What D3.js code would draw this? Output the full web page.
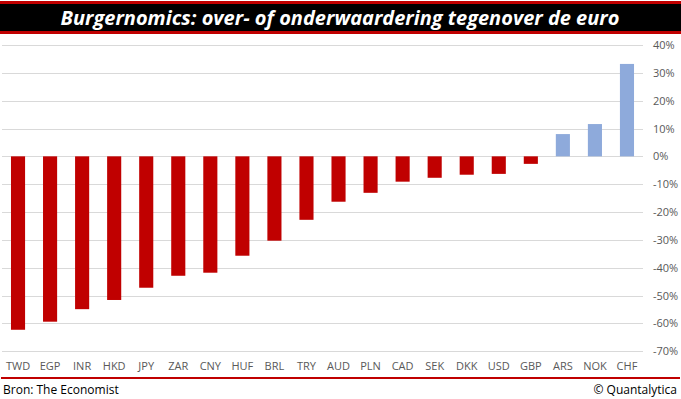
<!DOCTYPE html>
<html>
<head>
<meta charset="utf-8">
<script src="https://cdn.jsdelivr.net/npm/d3@7"></script>
<style>
  body { margin: 0; background: #fff; }
  svg { display: block; }
  .tick text { font-family: "Open Sans", sans-serif; font-size: 11px; fill: #595959; }
</style>
</head>
<body>
<svg id="viz" width="681" height="399"></svg>
<script>
var currencies = ["TWD","EGP","INR","HKD","JPY","ZAR","CNY","HUF","BRL","TRY","AUD","PLN","CAD","SEK","DKK","USD","GBP","ARS","NOK","CHF"];
var valuation = [-62.3,-59.4,-54.9,-51.6,-47.2,-42.9,-41.8,-35.7,-30.3,-22.8,-16.3,-13.1,-9.1,-7.7,-6.6,-6.3,-2.7,8.0,11.6,33.2];
var yTicks = [40,30,20,10,0,-10,-20,-30,-40,-50,-60,-70];

var titleText = "Burgernomics: over- of onderwaardering tegenover de euro";
var sourceText = "Bron: The Economist";
var copyText = "\u00A9 Quantalytica";

var svg = d3.select("#viz");

// title band
svg.append("rect").attr("x", 0).attr("y", 1).attr("width", 681).attr("height", 33).attr("fill", "#c00000");
svg.append("rect").attr("x", 0).attr("y", 4).attr("width", 681).attr("height", 27).attr("fill", "#000");
svg.append("text")
  .attr("x", 340).attr("y", 25)
  .attr("text-anchor", "middle")
  .style("font-family", "'Open Sans', sans-serif")
  .style("font-weight", "bold").style("font-style", "italic")
  .style("font-size", "20px").attr("fill", "#fff")
  .text(titleText);

var x = d3.scaleBand().domain(currencies).range([2, 643]).paddingInner(0.56).paddingOuter(0.28);
var y = d3.scaleLinear().domain([-70, 40]).range([351.2, 45]);

// gridlines
svg.append("g").selectAll("line").data(yTicks).join("line")
  .attr("x1", 2).attr("x2", 643)
  .attr("y1", d => Math.round(y(d)) + 0.5).attr("y2", d => Math.round(y(d)) + 0.5)
  .attr("stroke", "#d9d9d9").attr("stroke-width", 1);

// bars
svg.append("g").selectAll("rect").data(currencies).join("rect")
  .attr("x", (d) => x(d))
  .attr("width", x.bandwidth())
  .attr("y", (d, i) => y(Math.max(0, valuation[i])))
  .attr("height", (d, i) => Math.abs(y(valuation[i]) - y(0)))
  .attr("fill", (d, i) => valuation[i] < 0 ? "#c00000" : "#8eaadb");

// y axis on the right
var yAxis = svg.append("g")
  .attr("transform", "translate(650,0)")
  .call(d3.axisRight(y).tickValues(yTicks).tickSize(0).tickPadding(3).tickFormat(d => d + "%"));
yAxis.select(".domain").remove();

// category axis
var xAxis = svg.append("g")
  .attr("transform", "translate(0,361)")
  .call(d3.axisBottom(x).tickSize(0).tickPadding(1));
xAxis.select(".domain").remove();

// footer
svg.append("rect").attr("x", 1).attr("y", 377).attr("width", 679).attr("height", 2).attr("fill", "#c00000");
svg.append("text").attr("x", 3).attr("y", 394)
  .style("font-family", "'Open Sans', sans-serif").style("font-size", "12px").attr("fill", "#000")
  .text(sourceText);
svg.append("text").attr("x", 677).attr("y", 394).attr("text-anchor", "end")
  .style("font-family", "'Open Sans', sans-serif").style("font-size", "12px").attr("fill", "#000")
  .text(copyText);
</script>
</body>
</html>
